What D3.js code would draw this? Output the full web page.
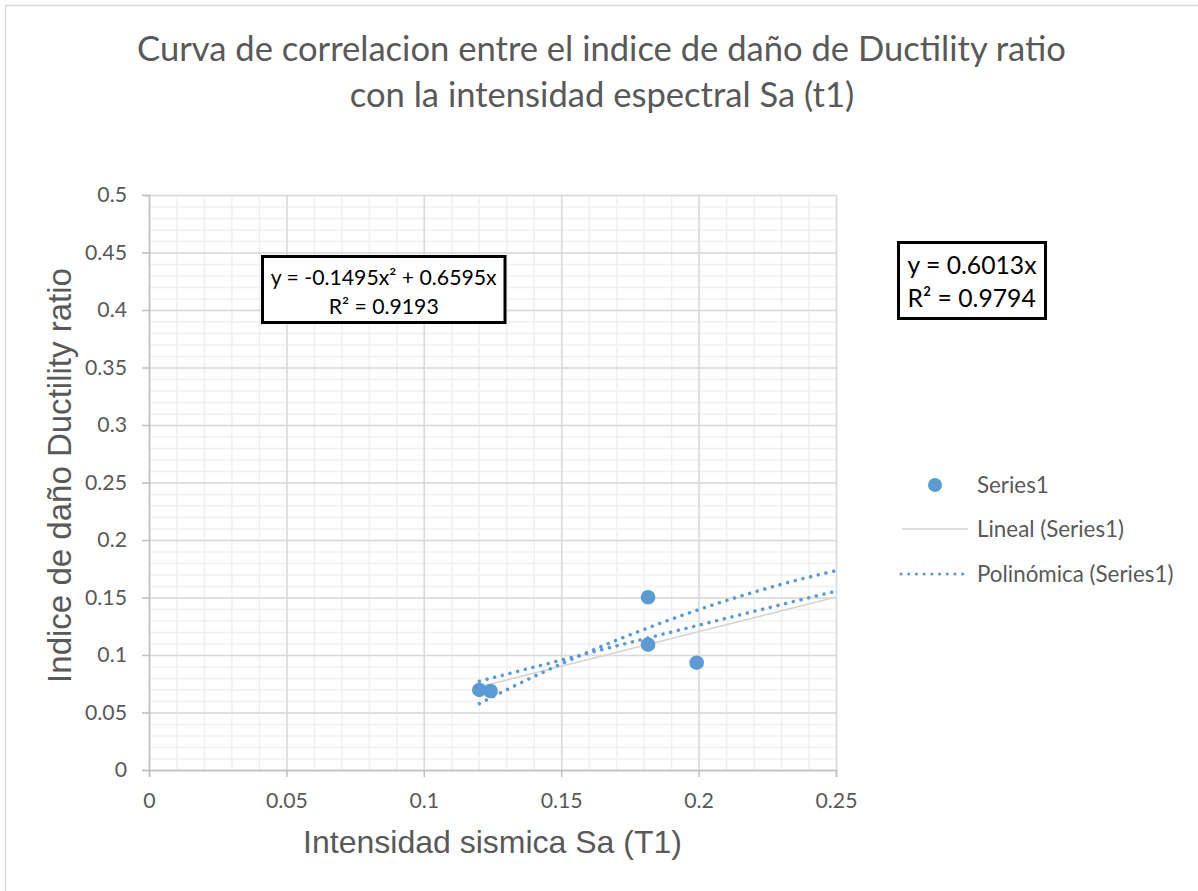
<!DOCTYPE html>
<html>
<head>
<meta charset="utf-8">
<script src="https://cdn.jsdelivr.net/npm/d3@7"></script>
<style>
  html, body { margin: 0; padding: 0; background: #ffffff; }
  svg { display: block; }
</style>
</head>
<body>
<svg id="chart" width="1198" height="891"></svg>
<script>
// ---------------- data ----------------
const titleLines = ["Curva de correlacion entre el indice de daño de Ductility ratio", "con la intensidad espectral Sa (t1)"];
const xAxisTitle = "Intensidad sismica Sa (T1)";
const yAxisTitle = "Indice de daño Ductility ratio";
const seriesName = "Series1";
const sa = [0.1202, 0.1243, 0.1816, 0.1816, 0.1993];
const ductility = [0.0696, 0.0687, 0.1502, 0.1090, 0.0933];
const xTicks = [0, 0.05, 0.1, 0.15, 0.2, 0.25];
const xTickLabels = ["0", "0.05", "0.1", "0.15", "0.2", "0.25"];
const yTicks = [0, 0.05, 0.1, 0.15, 0.2, 0.25, 0.3, 0.35, 0.4, 0.45, 0.5];
const yTickLabels = ["0", "0.05", "0.1", "0.15", "0.2", "0.25", "0.3", "0.35", "0.4", "0.45", "0.5"];
const linearSlope = 0.6013;                 // y = 0.6013x
const polyCoefs = [0, 0.6595, -0.1495];     // y = -0.1495x² + 0.6595x
const polyCoefs2 = [-0.1295, 1.8776, -2.665]; // second dotted polynomial curve
const trendEnd = 0.25;
const legendLabels = ["Series1", "Lineal (Series1)", "Polinómica (Series1)"];
const polyEqLines = ["y = -0.1495x² + 0.6595x", "R² = 0.9193"];
const linEqLines = ["y = 0.6013x", "R² = 0.9794"];

// ---------------- layout ----------------
const W = 1198, H = 891;
const plot = { left: 149, right: 836, top: 195, bottom: 770 };
const textGray = "#595959";
const blue = "#5b9bd5";
const sansCal = "Lato, 'Open Sans', sans-serif";
const sansArial = "'Liberation Sans', Arial, sans-serif";

const svg = d3.select("#chart");
svg.append("rect").attr("width", W).attr("height", H).attr("fill", "#fff");
// outer chart border (extends beyond the picture on right and bottom)
svg.append("rect").attr("x", 5.5).attr("y", 5.5).attr("width", W + 50).attr("height", H + 50)
  .attr("fill", "none").attr("stroke", "#d9d9d9").attr("stroke-width", 1.5);

const x = d3.scaleLinear().domain([0, 0.25]).range([plot.left, plot.right]);
const y = d3.scaleLinear().domain([0, 0.5]).range([plot.bottom, plot.top]);

// fit a text element's font size so that its width equals target
function fitSize(text, family, target, weight) {
  const t = svg.append("text").attr("font-family", family).attr("font-size", 100)
    .attr("font-weight", weight || "normal").text(text);
  const w = t.node().getComputedTextLength();
  t.remove();
  return 100 * target / w;
}

// ---------------- gridlines ----------------
const minorY = d3.range(0, 51).map(i => +(i * 0.01).toFixed(3));
const minorXv = d3.range(0, 26).map(i => +(i * 0.01).toFixed(3));

const grid = svg.append("g");
grid.append("g").attr("transform", `translate(0,${plot.bottom})`)
  .call(d3.axisBottom(x).tickValues(minorXv).tickSize(-(plot.bottom - plot.top)).tickFormat(""))
  .call(g => g.select(".domain").remove())
  .call(g => g.selectAll("line").attr("stroke", "#f0f0f0").attr("stroke-width", 1.5));
grid.append("g").attr("transform", `translate(${plot.left},0)`)
  .call(d3.axisLeft(y).tickValues(minorY).tickSize(-(plot.right - plot.left)).tickFormat(""))
  .call(g => g.select(".domain").remove())
  .call(g => g.selectAll("line").attr("stroke", "#f0f0f0").attr("stroke-width", 1.5));
grid.append("g").attr("transform", `translate(0,${plot.bottom})`)
  .call(d3.axisBottom(x).tickValues(xTicks).tickSize(-(plot.bottom - plot.top)).tickFormat(""))
  .call(g => g.select(".domain").remove())
  .call(g => g.selectAll("line").attr("stroke", "#d9d9d9").attr("stroke-width", 1.5));
grid.append("g").attr("transform", `translate(${plot.left},0)`)
  .call(d3.axisLeft(y).tickValues(yTicks).tickSize(-(plot.right - plot.left)).tickFormat(""))
  .call(g => g.select(".domain").remove())
  .call(g => g.selectAll("line").attr("stroke", "#d9d9d9").attr("stroke-width", 1.5));

// ---------------- axes ----------------
const tickFont = fitSize("0.45", sansCal, 42);
const xAxis = svg.append("g").attr("transform", `translate(0,${plot.bottom})`)
  .call(d3.axisBottom(x).tickValues(xTicks).tickSize(7).tickPadding(15)
    .tickFormat((d, i) => xTickLabels[i]));
const yAxis = svg.append("g").attr("transform", `translate(${plot.left},0)`)
  .call(d3.axisLeft(y).tickValues(yTicks).tickSize(7).tickPadding(15)
    .tickFormat((d, i) => yTickLabels[i]));
[xAxis, yAxis].forEach(a => {
  a.select(".domain").attr("stroke", "#bfbfbf").attr("stroke-width", 1.5);
  a.selectAll(".tick line").attr("stroke", "#bfbfbf").attr("stroke-width", 1.5);
  a.selectAll(".tick text").attr("fill", textGray).attr("font-family", sansCal).attr("font-size", tickFont);
});
xAxis.selectAll(".tick text").attr("dy", null).attr("y", 38);
yAxis.selectAll(".tick text").attr("x", -22);

// ---------------- trendlines ----------------
const xMin = d3.min(sa);
const samples = d3.range(0, 201).map(i => xMin + (trendEnd - xMin) * i / 200);
const line = d3.line().x(d => x(d[0])).y(d => y(d[1]));
const poly = c => v => c[0] + c[1] * v + c[2] * v * v;

svg.append("path").datum(samples.map(v => [v, linearSlope * v]))
  .attr("d", line).attr("fill", "none").attr("stroke", "#d3d3d3").attr("stroke-width", 1.5);

[polyCoefs, polyCoefs2].forEach(c => {
  const f = poly(c);
  svg.append("path").datum(samples.map(v => [v, f(v)]))
    .attr("d", line).attr("fill", "none").attr("stroke", blue)
    .attr("stroke-width", 3.5).attr("stroke-linecap", "round").attr("stroke-dasharray", "0.1,7.8");
});

// ---------------- points ----------------
svg.append("g").selectAll("circle").data(sa.map((v, i) => [v, ductility[i]])).join("circle")
  .attr("cx", d => x(d[0])).attr("cy", d => y(d[1])).attr("r", 7.3).attr("fill", blue);

// ---------------- title ----------------
const titleSize = fitSize(titleLines[0], sansCal, 929);
svg.append("text").attr("x", 601.5).attr("y", 61).attr("text-anchor", "middle")
  .attr("font-family", sansCal).attr("font-size", titleSize).attr("fill", textGray).text(titleLines[0]);
svg.append("text").attr("x", 602).attr("y", 107).attr("text-anchor", "middle")
  .attr("font-family", sansCal).attr("font-size", titleSize).attr("fill", textGray).text(titleLines[1]);

// ---------------- axis titles ----------------
const xtSize = fitSize(xAxisTitle, sansArial, 379);
svg.append("text").attr("x", (plot.left + plot.right) / 2).attr("y", 853).attr("text-anchor", "middle")
  .attr("font-family", sansArial).attr("font-size", xtSize).attr("fill", textGray).text(xAxisTitle);
const ytSize = fitSize(yAxisTitle, sansArial, 415);
svg.append("text").attr("transform", "translate(71,475.5) rotate(-90)").attr("text-anchor", "middle")
  .attr("font-family", sansArial).attr("font-size", ytSize).attr("fill", textGray).text(yAxisTitle);

// ---------------- equation boxes ----------------
// polynomial equation
svg.append("rect").attr("x", 262.5).attr("y", 256.5).attr("width", 242.5).attr("height", 66)
  .attr("fill", "#fff").attr("stroke", "#000").attr("stroke-width", 3);
const eq1Size = fitSize(polyEqLines[0], sansCal, 226);
polyEqLines.forEach((t, i) => {
  svg.append("text").attr("x", 383.7).attr("y", [285, 314][i]).attr("text-anchor", "middle")
    .attr("font-family", sansCal).attr("font-size", eq1Size).attr("fill", "#000").text(t);
});
// linear equation
svg.append("rect").attr("x", 898.5).attr("y", 242.5).attr("width", 147).attr("height", 76)
  .attr("fill", "#fff").attr("stroke", "#000").attr("stroke-width", 3);
const eq2Size = fitSize(linEqLines[0], sansCal, 129);
linEqLines.forEach((t, i) => {
  svg.append("text").attr("x", 907.5).attr("y", [273.5, 307][i])
    .attr("font-family", sansCal).attr("font-size", eq2Size).attr("fill", "#000").text(t);
});

// ---------------- legend ----------------
const legSize = fitSize(legendLabels[2], sansCal, 196.5);
const legY = [485, 529, 574];
const leg = svg.append("g");
leg.append("circle").attr("cx", 935).attr("cy", legY[0]).attr("r", 7).attr("fill", blue);
leg.append("line").attr("x1", 902).attr("x2", 968).attr("y1", legY[1]).attr("y2", legY[1])
  .attr("stroke", "#d3d3d3").attr("stroke-width", 1.5);
leg.append("line").attr("x1", 901).attr("x2", 970).attr("y1", legY[2]).attr("y2", legY[2])
  .attr("stroke", blue).attr("stroke-width", 3).attr("stroke-linecap", "round").attr("stroke-dasharray", "0.1,7.6");
legendLabels.forEach((t, i) => {
  leg.append("text").attr("x", 977).attr("y", legY[i]).attr("dy", "0.35em")
    .attr("font-family", sansCal).attr("font-size", legSize).attr("fill", textGray).text(t);
});
</script>
</body>
</html>
